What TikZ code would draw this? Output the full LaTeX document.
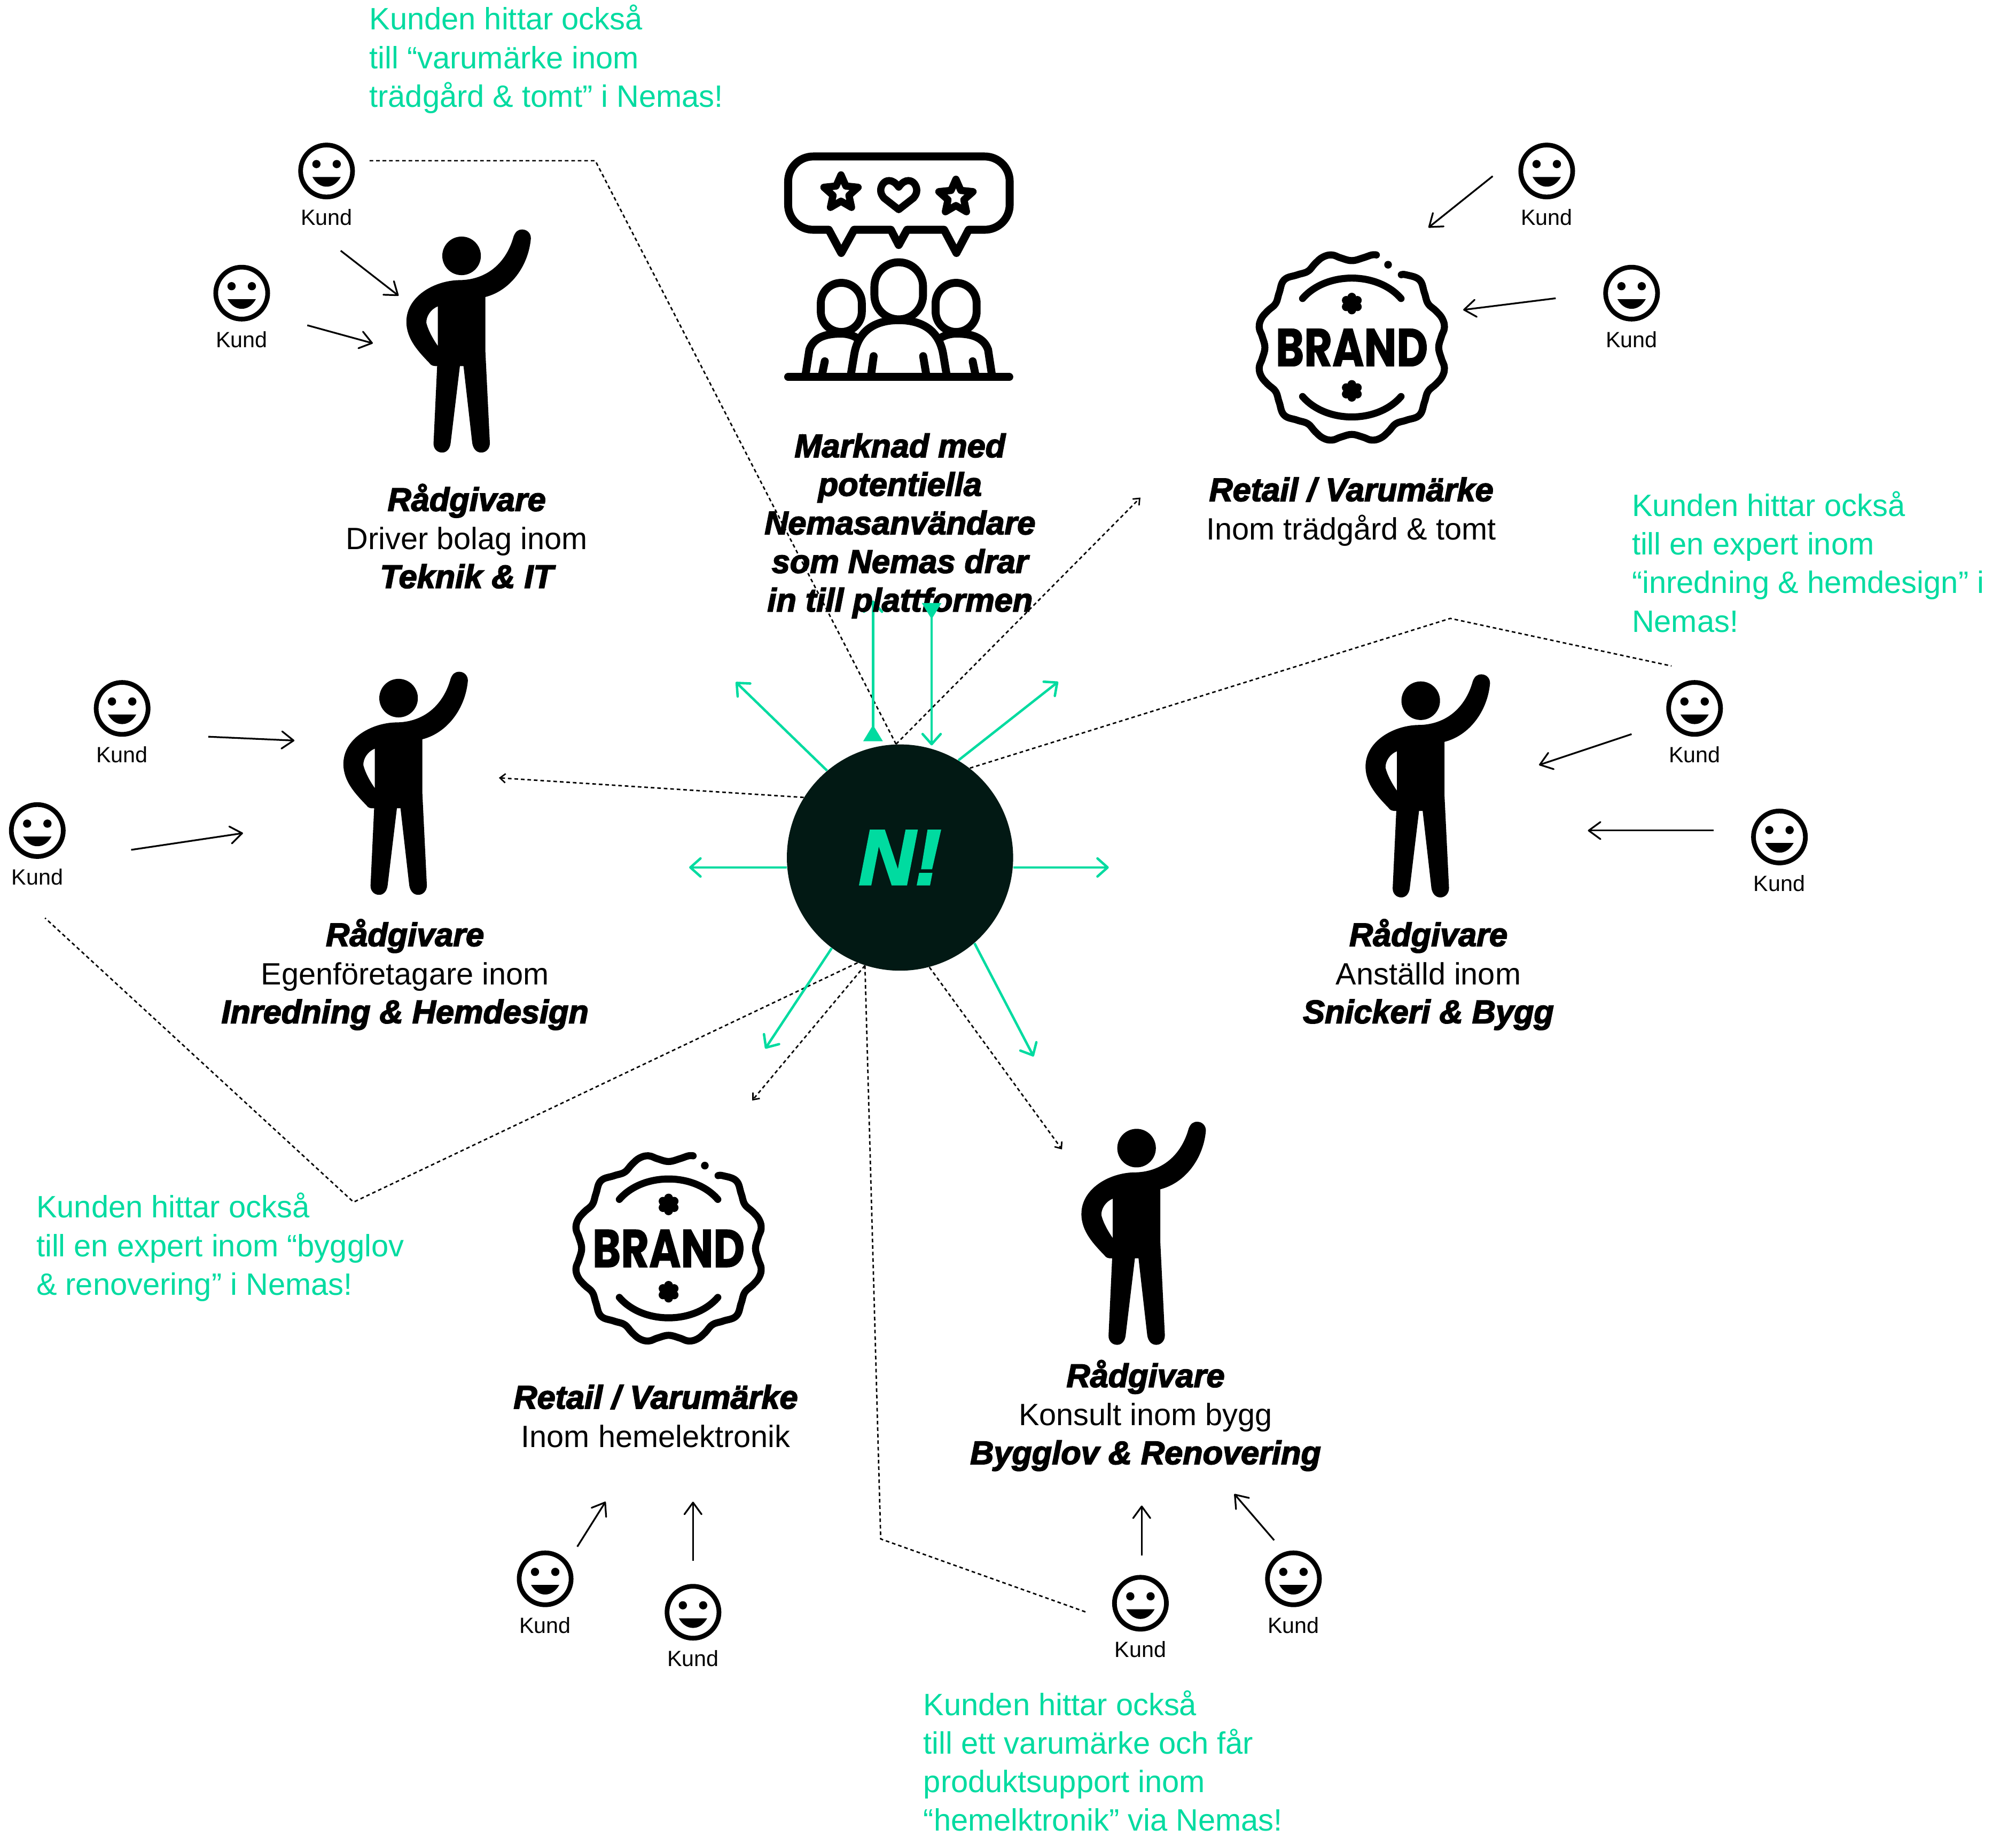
\documentclass[tikz,border=0pt]{standalone}
\usepackage{fontspec}
\usepackage{graphicx}
\usetikzlibrary{arrows.meta}
\setmainfont{Liberation Sans}
\newfontfamily\heavyfont[BoldItalicFeatures={FakeBold=3}]{Liberation Sans}
\newfontfamily\brandfont[BoldFeatures={FakeBold=1.2}]{Poppins}
\definecolor{nemasgreen}{HTML}{00DBA0}
\definecolor{nemasdark}{HTML}{021914}
\newcommand{\hv}[1]{{\heavyfont\bfseries\itshape\fontsize{18.1pt}{21.33pt}\selectfont #1}}
\tikzset{
  bodytext/.style={font=\fontsize{17.05pt}{21.33pt}\selectfont, align=center, inner sep=0pt},
  greentext/.style={font=\fontsize{17.1pt}{21.33pt}\selectfont, align=left, inner sep=0pt, anchor=west, text=nemasgreen},
  kundtext/.style={font=\fontsize{12.2pt}{14pt}\selectfont, inner sep=0pt},
  greenarrow/.style={draw=nemasgreen, line width=1.35pt, -{Straight Barb[length=5.6pt,width=10pt,round]}},
  blackarrow/.style={line width=0.95pt, -{Straight Barb[length=6.5pt,width=9.5pt,round]}},
  dotline/.style={line width=0.8pt, dash pattern=on 2pt off 1.6pt},
  dotarrow/.style={dotline, -{Straight Barb[length=3pt,width=5pt]}},
  person/.pic={
    \fill[even odd rule] (40.5,-15.2) .. controls (42,-19) and (44,-20.5) .. (47.2,-20.5)
      .. controls (51,-20.5) and (54,-17.5) .. (53.9,-13.5)
      .. controls (52,8) and (38,27) .. (18.5,32) -- (18.5,74) -- (22,145.6)
      .. controls (22,150) and (19,153) .. (15.3,153) .. controls (11.5,153) and (9,150) .. (8.3,145.6)
      -- (1.5,85.7) -- (-1.3,85.7) -- (-8.5,145.6)
      .. controls (-9,150) and (-11.5,153) .. (-15.1,153) .. controls (-19,153) and (-22,150) .. (-21.8,145.6)
      -- (-19,85.7) .. controls (-22,86) and (-24,85) .. (-24.8,83.6)
      .. controls (-33,75) and (-43,65) .. (-42.9,51.2)
      .. controls (-43,32) and (-22,19.5) .. (-2.5,18.9)
      .. controls (20,19) and (35,5) .. (40.5,-15.2) -- cycle
      (-18.5,39.3) .. controls (-24,41.5) and (-27.5,47) .. (-27.4,52)
      .. controls (-26,58) and (-22,65) .. (-18.5,70) -- cycle;
    \fill (0,0) circle (15);
  },
  smiley/.pic={
    \draw[line width=2.6pt] (0,0) circle (20.2);
    \fill (-7.9,-5.4) circle (3.2);
    \fill (7.9,-5.4) circle (3.2);
    \fill (-11,4.7) .. controls (-8,10) and (-4,12.2) .. (0,12.2)
      .. controls (4,12.2) and (8,10) .. (11,4.7) -- cycle;
    \node[kundtext] (-label) at (0,36) {Kund};
  },
  flower/.pic={
    \fill (0,0) circle (4);
    \fill (0,-5) circle (3.4);
    \fill (0,5) circle (3.4);
    \fill (4.3,-2.5) circle (3.4);
    \fill (-4.3,-2.5) circle (3.4);
    \fill (4.3,2.5) circle (3.4);
    \fill (-4.3,2.5) circle (3.4);
  },
  badge/.pic={
    \draw[line width=3.9pt, line cap=round, line join=round] plot[smooth, tension=0.7] coordinates {
      (38.5,-56.6) (42.5,-56.5) (52.6,-52.6) (56.5,-42.5) (59.3,-34.2) (65.5,-28.4) (70.4,-22.4) (72,-15.5) (69.7,-8.6) (67.6,0)
      (69.7,8.6) (72,15.5) (70.4,22.4) (65.5,28.4) (59.3,34.2) (56.5,42.5) (52.6,52.6) (42.5,56.5) (34.2,59.3) (28.4,65.5) (22.4,70.4) (15.5,72) (8.6,69.7) (0,67.6)
      (-8.6,69.7) (-15.5,72) (-22.4,70.4) (-28.4,65.5) (-34.2,59.3) (-42.5,56.5) (-52.6,52.6) (-56.5,42.5) (-59.3,34.2) (-65.5,28.4) (-70.4,22.4) (-72,15.5) (-69.7,8.6) (-67.6,0)
      (-69.7,-8.6) (-72,-15.5) (-70.4,-22.4) (-65.5,-28.4) (-59.3,-34.2) (-56.5,-42.5) (-52.6,-52.6) (-42.5,-56.5) (-34.2,-59.3) (-28.4,-65.5) (-22.4,-70.4) (-15.5,-72) (-8.6,-69.7) (0,-67.6)
      (8.6,-69.7) (15.5,-72) (19.1,-72)};
    \fill (28.2,-64.4) circle (3);
    \draw[line width=3.9pt, line cap=round] (-38.3,-38.1) .. controls (-20,-59.3) and (20,-59.3) .. (38.3,-38.1);
    \draw[line width=3.9pt, line cap=round] (-38.3,38.1) .. controls (-20,59.3) and (20,59.3) .. (38.3,38.1);
    \pic at (0,-34.2) {flower};
    \pic at (0,33.7) {flower};
    \node[inner sep=0pt] (-word) at (0,0) {\scalebox{.81}[1]{\brandfont\bfseries\fontsize{29.5pt}{30pt}\selectfont BRAND}};
  },
  ratestar/.pic={
    \draw[line width=4pt, line join=round] (0,-14) -- (3.8,-5.3) -- (13.3,-4.3) -- (6.2,2) -- (8.2,11.3)
      -- (0,6.5) -- (-8.2,11.3) -- (-6.2,2) -- (-13.3,-4.3) -- (-3.8,-5.3) -- cycle;
  },
  crowd/.pic={
    \draw[line width=4.4pt, line join=round] (-66.5,121.7) -- (66.8,121.7)
      .. controls (77.6,121.7) and (86.3,130.4) .. (86.3,141.2) -- (86.3,159.2)
      .. controls (86.3,170) and (77.6,178.7) .. (66.8,178.7) -- (54.4,178.7) -- (44.9,196.8) -- (35.3,178.7) -- (6.5,178.7)
      -- (0,190.6) -- (-6.1,178.7) -- (-34.7,178.7) -- (-44.7,196.8) -- (-54.4,178.7) -- (-66.5,178.7)
      .. controls (-77.3,178.7) and (-86,170) .. (-86,159.2) -- (-86,141.2)
      .. controls (-86,130.4) and (-77.3,121.7) .. (-66.5,121.7) -- cycle;
    \pic at (-44.9,150) {ratestar};
    \pic at (44.5,153.4) {ratestar};
    \draw[line width=4pt, line join=round] (0,145.5) .. controls (-2.5,142) and (-5,140.5) .. (-7.5,140.5)
      .. controls (-11.5,140.5) and (-14,144.5) .. (-14,148) .. controls (-14,150.5) and (-13,152) .. (-11.5,154)
      -- (0,163) -- (11.5,154) .. controls (13,152) and (14,150.5) .. (14,148)
      .. controls (14,144.5) and (11.5,140.5) .. (7.5,140.5) .. controls (5,140.5) and (2.5,142) .. (0,145.5) -- cycle;
    \draw[line width=4.4pt, rounded corners=13.4pt] (-18.9,204) rectangle (18.9,248.4);
    \draw[line width=4.4pt, rounded corners=11.3pt] (-60.6,220) rectangle (-28.7,258.2);
    \draw[line width=4.4pt, rounded corners=11.3pt] (60.6,220) rectangle (28.7,258.2);
    \draw[line width=4.4pt] (-37.5,293) -- (-34.5,275) .. controls (-31,256) and (-17,249) .. (0,249)
      .. controls (17,249) and (31,256) .. (34.5,275) -- (37.5,293);
    \draw[line width=4.4pt] (-72.7,293) -- (-69.5,272) .. controls (-66,262) and (-56,259.5) .. (-45,259.5)
      .. controls (-38,259.5) and (-33,262) .. (-29.5,265);
    \draw[line width=4.4pt] (72.7,293) -- (69.5,272) .. controls (66,262) and (56,259.5) .. (45,259.5)
      .. controls (38,259.5) and (33,262) .. (29.5,265);
    \draw[line width=4.4pt, line cap=round] (-57.5,281) -- (-60,293);
    \draw[line width=4.4pt, line cap=round] (57.5,281) -- (60,293);
    \draw[line width=4.4pt, line cap=round] (-19.5,277) -- (-21.7,293);
    \draw[line width=4.4pt, line cap=round] (19,277) -- (21.7,293);
    \draw[line width=4.4pt, line cap=round] (-86,293.2) -- (86,293.2);
  }
}
\begin{document}
\begin{tikzpicture}[x=0.25mm,y=-0.25mm]
\useasboundingbox (0,0) rectangle (1568,1435);
% hub
\node[circle, fill=nemasdark, text=nemasgreen, minimum size=44mm, inner sep=0pt, font=\heavyfont\bfseries\itshape\fontsize{43pt}{43pt}\selectfont] (hub) at (700,667) {N!};
% dotted lines
\coordinate (d1a) at (287,125);
\coordinate (d1b) at (463,125);
\coordinate (d2e) at (887,387);
\coordinate (d3a) at (1128,481);
\coordinate (d3b) at (1300,518);
\coordinate (d4e) at (388,605);
\coordinate (d5a) at (275,935);
\coordinate (d5b) at (35,714);
\coordinate (d6e) at (585,856);
\coordinate (d7a) at (685,1197);
\coordinate (d7b) at (845,1254);
\coordinate (d8e) at (826,894);
\draw[dotline] (hub.92) -- (d1b) -- (d1a);
\draw[dotarrow] (hub.92) -- (d2e);
\draw[dotline] (hub.52) -- (d3a) -- (d3b);
\draw[dotarrow] (hub.148) -- (d4e);
\draw[dotline] (hub.248) -- (d5a) -- (d5b);
\draw[dotarrow] (hub.252) -- (d6e);
\draw[dotline] (hub.252) -- (d7a) -- (d7b);
\draw[dotarrow] (hub.-75.5) -- (d8e);
% green arrows
\coordinate (g1) at (572.3,530.5);
\coordinate (g2) at (823,530.3);
\coordinate (g3) at (536,675.2);
\coordinate (g4) at (862.4,675.2);
\coordinate (g5) at (595.2,815.6);
\coordinate (g6) at (803.9,821.7);
\coordinate (g7) at (679,467);
\coordinate (g8) at (724.6,469);
\draw[greenarrow] (hub.130.7) -- (g1);
\draw[greenarrow] (hub.59.6) -- (g2);
\draw[greenarrow] (hub.185.2) -- (hub.185.2 -| g3);
\draw[greenarrow] (hub.-5.2) -- (hub.-5.2 -| g4);
\draw[greenarrow] (hub.233.8) -- (g5);
\draw[greenarrow] (hub.-49.4) -- (g6);
\draw[greenarrow, shorten <=3.2pt, {Triangle[reversed,length=9pt,width=10.5pt]}-{Straight Barb[length=5.6pt,width=10pt,round]}] (hub.103.8 -| g7) -- (g7);
% icons
\pic (crowd) at (699,0) {crowd};
\pic (p1) at (359,199) {person};
\pic (p2) at (310,543) {person};
\pic (p3) at (1105,545) {person};
\pic (p4) at (884,893) {person};
\pic (b1) at (1051.4,270.3) {badge};
\pic (b2) at (520,971) {badge};
\pic (k1) at (254,133) {smiley};
\pic (k2) at (188,228) {smiley};
\pic (k3) at (1203,133) {smiley};
\pic (k4) at (1269,228) {smiley};
\pic (k5) at (95,551) {smiley};
\pic (k6) at (29,646) {smiley};
\pic (k7) at (1318,551) {smiley};
\pic (k8) at (1384,651) {smiley};
\pic (k9) at (424,1228) {smiley};
\pic (k10) at (539,1254) {smiley};
\pic (k11) at (887,1247) {smiley};
\pic (k12) at (1006,1228) {smiley};
% kund arrows
\coordinate (a1s) at (265,195);
\coordinate (a1e) at (310,230);
\coordinate (a2s) at (239,253);
\coordinate (a2e) at (290,267);
\coordinate (a3s) at (1161,137);
\coordinate (a3e) at (1111,177);
\coordinate (a4s) at (1210,232);
\coordinate (a4e) at (1138,241);
\coordinate (a5s) at (162,573);
\coordinate (a5e) at (229,576);
\coordinate (a6s) at (102,661);
\coordinate (a6e) at (189,648);
\coordinate (a7s) at (1269,571);
\coordinate (a7e) at (1197,595);
\coordinate (a8s) at (1333,646);
\coordinate (a8e) at (1235,646);
\coordinate (a9s) at (449,1203);
\coordinate (a9e) at (471,1168);
\coordinate (a10s) at (539,1214);
\coordinate (a10e) at (539,1168);
\coordinate (a11s) at (888,1210);
\coordinate (a11e) at (888,1171);
\coordinate (a12s) at (991,1198);
\coordinate (a12e) at (960,1162);
\draw[blackarrow] (a1s) -- (a1e);
\draw[blackarrow] (a2s) -- (a2e);
\draw[blackarrow] (a3s) -- (a3e);
\draw[blackarrow] (a4s) -- (a4e);
\draw[blackarrow] (a5s) -- (a5e);
\draw[blackarrow] (a6s) -- (a6e);
\draw[blackarrow] (a7s) -- (a7e);
\draw[blackarrow] (a8s) -- (a8e);
\draw[blackarrow] (a9s) -- (a9e);
\draw[blackarrow] (a10s) -- (a10e);
\draw[blackarrow] (a11s) -- (a11e);
\draw[blackarrow] (a12s) -- (a12e);
% labels
\node[bodytext] (market) at (700,409) {\hv{Marknad med}\\\hv{potentiella}\\\hv{Nemasanvändare}\\\hv{som Nemas drar}\\\hv{in till plattformen}};
\node[bodytext] (t1) at (363,417) {\hv{Rådgivare}\\Driver bolag inom\\\hv{Teknik \& IT}};
\node[bodytext] (t2) at (315,758) {\hv{Rådgivare}\\Egenföretagare inom\\\hv{Inredning \& Hemdesign}};
\node[bodytext] (t3) at (1111,758) {\hv{Rådgivare}\\Anställd inom\\\hv{Snickeri \& Bygg}};
\node[bodytext] (t4) at (891,1101) {\hv{Rådgivare}\\Konsult inom bygg\\\hv{Bygglov \& Renovering}};
\node[bodytext] (t5) at (1051,398) {\hv{Retail / Varumärke}\\Inom trädgård \& tomt};
\node[bodytext] (t6) at (510,1101.5) {\hv{Retail / Varumärke}\\Inom hemelektronik};
% this one lies over the text
\draw[greenarrow, shorten >=2pt, {Triangle[reversed,length=9pt,width=10.5pt]}-{Straight Barb[length=5.6pt,width=10pt,round]}] (g8) -- (hub.73.8 -| g8);
% green notes
\node[greentext] (n1) at (287,46) {Kunden hittar också\\till “varumärke inom\\trädgård \& tomt” i Nemas!};
\node[greentext] (n2) at (1269,437) {Kunden hittar också\\till en expert inom\\“inredning \& hemdesign” i\\Nemas!};
\node[greentext] (n3) at (28,970) {Kunden hittar också\\till en expert inom “bygglov\\\& renovering” i Nemas!};
\node[greentext] (n4) at (718,1369.5) {Kunden hittar också\\till ett varumärke och får\\produktsupport inom\\“hemelktronik” via Nemas!};
\end{tikzpicture}
\end{document}
